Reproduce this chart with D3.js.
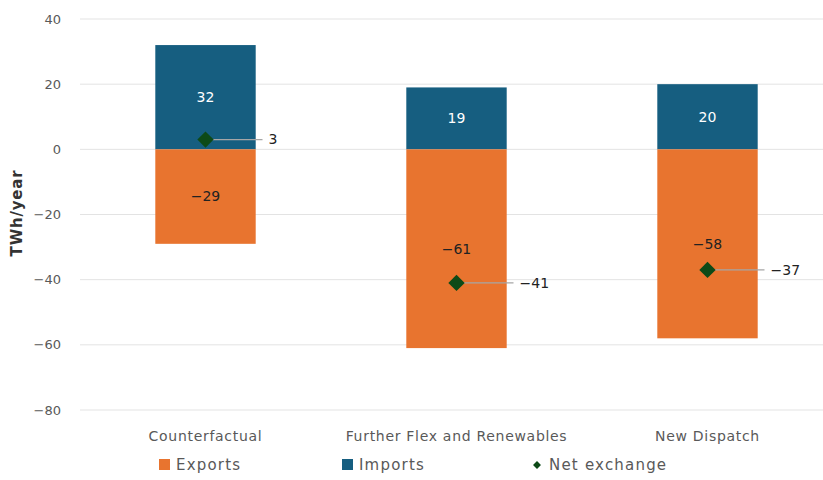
<!DOCTYPE html>
<html><head><meta charset="utf-8">
<script src="https://cdn.jsdelivr.net/npm/d3@7"></script>
<style>body{margin:0;background:#fff;}svg{display:block;font-family:"DejaVu Sans",sans-serif;}</style>
</head><body>
<svg id="chart" width="823" height="480"></svg>
<script>
const categories = ["Counterfactual", "Further Flex and Renewables", "New Dispatch"];
const exportsVals = [-29, -61, -58];
const importsVals = [32, 19, 20];
const netVals = [3, -41, -37];
const yTicks = [40, 20, 0, -20, -40, -60, -80];
const seriesNames = ["Exports", "Imports", "Net exchange"];

const colors = {exp: "#E8742F", imp: "#165E80", net: "#0D4A17"};
const svg = d3.select("#chart");
const x = d3.scaleBand().domain(categories).range([80, 833]).padding(0);
const y = d3.scaleLinear().domain([-80, 40]).range([410, 19]);
const barW = x.bandwidth() * 0.4;
const cx = c => x(c) + x.bandwidth() / 2;

// gridlines
svg.append("g").selectAll("line").data(yTicks).join("line")
  .attr("x1", 80).attr("x2", 823)
  .attr("y1", d => y(d)).attr("y2", d => y(d))
  .attr("stroke", "#e3e3e3").attr("stroke-width", 1);

// y tick labels
svg.append("g").selectAll("text").data(yTicks).join("text")
  .attr("x", 61).attr("y", d => y(d)).attr("dy", "0.35em")
  .attr("text-anchor", "end").attr("font-size", 13).attr("fill", "#595959")
  .text(d => d < 0 ? "\u2212" + Math.abs(d) : d);

// y title
svg.append("text").attr("transform", "translate(22,213) rotate(-90)")
  .attr("text-anchor", "middle").attr("font-size", 15).attr("font-weight", "bold")
  .attr("letter-spacing", 0.8)
  .attr("fill", "#333").text("TWh/year");

// bars
const g = svg.append("g");
g.selectAll(".imp").data(categories).join("rect")
  .attr("x", c => cx(c) - barW / 2).attr("width", barW)
  .attr("y", (c, i) => y(importsVals[i])).attr("height", (c, i) => y(0) - y(importsVals[i]))
  .attr("fill", colors.imp);
g.selectAll(".exp").data(categories).join("rect")
  .attr("x", c => cx(c) - barW / 2).attr("width", barW)
  .attr("y", y(0)).attr("height", (c, i) => y(exportsVals[i]) - y(0))
  .attr("fill", colors.exp);

// bar labels
const fmt = d => d < 0 ? "\u2212" + Math.abs(d) : String(d);
g.selectAll(".impl").data(categories).join("text")
  .attr("x", c => cx(c)).attr("y", (c, i) => (y(importsVals[i]) + y(0)) / 2).attr("dy", "0.35em")
  .attr("text-anchor", "middle").attr("font-size", 14).attr("fill", "#fff")
  .text((c, i) => fmt(importsVals[i]));
g.selectAll(".expl").data(categories).join("text")
  .attr("x", c => cx(c)).attr("y", (c, i) => (y(exportsVals[i]) + y(0)) / 2).attr("dy", "0.35em")
  .attr("text-anchor", "middle").attr("font-size", 14).attr("fill", "#222")
  .text((c, i) => fmt(exportsVals[i]));

// net exchange
g.selectAll(".lead").data(categories).join("line")
  .attr("x1", c => cx(c)).attr("x2", c => cx(c) + 57)
  .attr("y1", (c, i) => y(netVals[i])).attr("y2", (c, i) => y(netVals[i]))
  .attr("stroke", "#a6a6a6").attr("stroke-width", 1.2);
g.selectAll(".dia").data(categories).join("path")
  .attr("d", d3.symbol(d3.symbolDiamond2, 170)())
  .attr("transform", (c, i) => `translate(${cx(c)},${y(netVals[i])})`)
  .attr("fill", colors.net);
g.selectAll(".netl").data(categories).join("text")
  .attr("x", c => cx(c) + 63).attr("y", (c, i) => y(netVals[i])).attr("dy", "0.35em")
  .attr("font-size", 14).attr("fill", "#222")
  .text((c, i) => fmt(netVals[i]));

// category labels
svg.append("g").selectAll("text").data(categories).join("text")
  .attr("x", c => cx(c)).attr("y", 436).attr("dy", "0.35em")
  .attr("text-anchor", "middle").attr("font-size", 14).attr("letter-spacing", 0.7)
  .attr("fill", "#595959")
  .text(c => c);

// legend
const leg = svg.append("g");
const legX = [159, 342, 532];
leg.append("rect").attr("x", legX[0]).attr("y", 459).attr("width", 11).attr("height", 11).attr("fill", colors.exp);
leg.append("rect").attr("x", legX[1]).attr("y", 459).attr("width", 11).attr("height", 11).attr("fill", colors.imp);
leg.append("path").attr("d", d3.symbol(d3.symbolDiamond2, 40)())
  .attr("transform", `translate(${legX[2] + 5},465)`).attr("fill", colors.net);
leg.selectAll("text").data(seriesNames).join("text")
  .attr("x", (d, i) => legX[i] + 17).attr("y", 465).attr("dy", "0.35em")
  .attr("font-size", 15).attr("letter-spacing", 1.2)
  .attr("fill", "#595959").text(d => d);
</script>
</body></html>
